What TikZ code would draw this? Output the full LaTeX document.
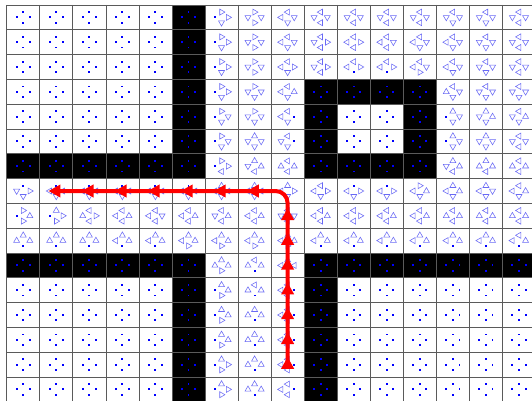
\documentclass[tikz,border=0pt]{standalone}
\definecolor{triblue}{RGB}{105,105,245}
\definecolor{dotblue}{RGB}{0,0,255}
\definecolor{gridgray}{RGB}{90,90,90}
\begin{document}
\begin{tikzpicture}[x=1pt,y=-1pt,
  symtri/.style={draw=triblue,line width=0.55pt,line join=miter},
  symdot/.style={fill=dotblue},
  wall/.style={fill=black},
  gridline/.style={draw=gridgray,line width=0.7pt},
  route/.style={draw=red,line width=4pt,rounded corners=12pt},
  routehead/.style={fill=red}]
\def\XO{6.7}\def\YO{5}\def\CW{33.05}\def\CH{24.8}
\useasboundingbox (0,0) rectangle (532,401);
\fill[white] (0,0) rectangle (532,401);
\clip (0,0) rectangle (532,401);
% walls
\newcommand\wallblock[4]{\fill[wall] ({\XO+\CW*(#1)},{\YO+\CH*(#2)}) rectangle ({\XO+\CW*(#3+1)},{\YO+\CH*(#4+1)});}
\wallblock{5}{0}{5}{6}
\wallblock{0}{6}{4}{6}
\wallblock{9}{3}{12}{3}
\wallblock{9}{6}{12}{6}
\wallblock{9}{4}{9}{5}
\wallblock{12}{4}{12}{5}
\wallblock{0}{10}{5}{10}
\wallblock{9}{10}{15}{10}
\wallblock{5}{11}{5}{15}
\wallblock{9}{11}{9}{15}
% grid
\foreach \k in {0,...,16}{
  \draw[gridline] ({\XO+\CW*\k},{\YO}) -- ({\XO+\CW*\k},{\YO+16*\CH});
  \draw[gridline] ({\XO},{\YO+\CH*\k}) -- ({\XO+16*\CW},{\YO+\CH*\k});
}
% symbols
\def\dosym#1#2#3{%
  \ifx#1o\fill[symdot] ({#2-0.95},{#3-0.95}) rectangle ({#2+0.95},{#3+0.95});\fi
  \ifx#1u\draw[symtri,shift={(#2,#3)}] (0,-3.4) -- (3.0,1.8) -- (-3.0,1.8) -- cycle;\fi
  \ifx#1d\draw[symtri,shift={(#2,#3)}] (0,3.4) -- (3.0,-1.8) -- (-3.0,-1.8) -- cycle;\fi
  \ifx#1l\draw[symtri,shift={(#2,#3)}] (-3.4,0) -- (1.8,3.0) -- (1.8,-3.0) -- cycle;\fi
  \ifx#1r\draw[symtri,shift={(#2,#3)}] (3.4,0) -- (-1.8,3.0) -- (-1.8,-3.0) -- cycle;\fi
}
\def\drawcode#1#2#3#4\relax{%
  \dosym{#1}{\cx}{\cy-5.3}%
  \dosym{#2}{\cx-6.6}{\cy}%
  \dosym{#3}{\cx+6.6}{\cy}%
  \dosym{#4}{\cx}{\cy+5.3}}
\foreach \rowcodes [count=\ri from 0] in {
 {oooo,oooo,oooo,oooo,oooo,oooo,rord,rddr,lldd,lddl,lddl,lddl,lddl,lddd,lddd,lddl},
 {oooo,oooo,oooo,oooo,oooo,oooo,rord,rddr,lldd,ldrl,llrl,lldl,lldd,lldd,lddd,lddl},
 {oooo,oooo,oooo,oooo,oooo,oooo,rord,rddr,llrd,ldrl,llro,llro,lldr,lldd,lddd,lddl},
 {oooo,oooo,oooo,oooo,oooo,oooo,rord,rddd,llud,oooo,oooo,oooo,oooo,ludd,lddd,lddd},
 {oooo,oooo,oooo,oooo,oooo,oooo,rodd,rddd,llod,oooo,oooo,oooo,oooo,uodd,udud,ldud},
 {oooo,oooo,oooo,oooo,oooo,oooo,rodd,uddd,ldod,oooo,oooo,oooo,oooo,uodd,uddd,lddl},
 {oooo,oooo,oooo,oooo,oooo,oooo,rorl,udul,luul,oooo,oooo,oooo,oooo,udul,uuul,luul},
 {odrd,olld,olld,olld,olld,olld,ulld,ulld,ulrd,llrd,olrd,olrd,rlud,ulud,uldd,llud},
 {rour,uorr,lurl,llul,lldl,llul,ldul,llul,lddl,llul,llrl,llul,llul,luul,luul,luul},
 {uuuo,uuuo,uuuo,uluo,uluo,ulur,ulur,ulur,ulur,uluo,uluo,uluo,uluo,uluo,uluo,lluo},
 {oooo,oooo,oooo,oooo,oooo,oooo,uuur,luuo,ullo,oooo,oooo,oooo,oooo,oooo,oooo,oooo},
 {oooo,oooo,oooo,oooo,oooo,oooo,uour,luuo,llol,oooo,oooo,oooo,oooo,oooo,oooo,oooo},
 {oooo,oooo,oooo,oooo,oooo,oooo,uour,uuuo,llol,oooo,oooo,oooo,oooo,oooo,oooo,oooo},
 {oooo,oooo,oooo,oooo,oooo,oooo,uour,uuuo,llol,oooo,oooo,oooo,oooo,oooo,oooo,oooo},
 {oooo,oooo,oooo,oooo,oooo,oooo,uorr,uuuo,llol,oooo,oooo,oooo,oooo,oooo,oooo,oooo},
 {oooo,oooo,oooo,oooo,oooo,oooo,uorr,uuuo,llol,oooo,oooo,oooo,oooo,oooo,oooo,oooo}}{
  \foreach \code [count=\ci from 0] in \rowcodes {
    \pgfmathsetmacro\cx{\XO+\CW*(\ci+0.5)}
    \pgfmathsetmacro\cy{\YO+\CH*(\ri+0.5)}
    \expandafter\drawcode\code\relax
  }
}
% route
\coordinate (startc) at ({\XO+\CW*8.5},{\YO+\CH*14.5});
\coordinate (turnc) at ({\XO+\CW*8.5},{\YO+\CH*7.5});
\coordinate (endc) at ({\XO+\CW*1.5},{\YO+\CH*7.5});
\draw[route] (startc) -- (turnc) -- (endc);
\foreach \k in {8,...,14}{
  \fill[routehead,shift={({\XO+\CW*8.5},{\YO+\CH*(\k+0.5)})}] (0,-7.4) -- (6.6,4.2) -- (-6.6,4.2) -- cycle;
}
\foreach \k in {1,...,7}{
  \fill[routehead,shift={({\XO+\CW*(\k+0.5)},{\YO+\CH*7.5})}] (-7.6,0) -- (4.2,6.6) -- (4.2,-6.6) -- cycle;
}
\end{tikzpicture}
\end{document}
